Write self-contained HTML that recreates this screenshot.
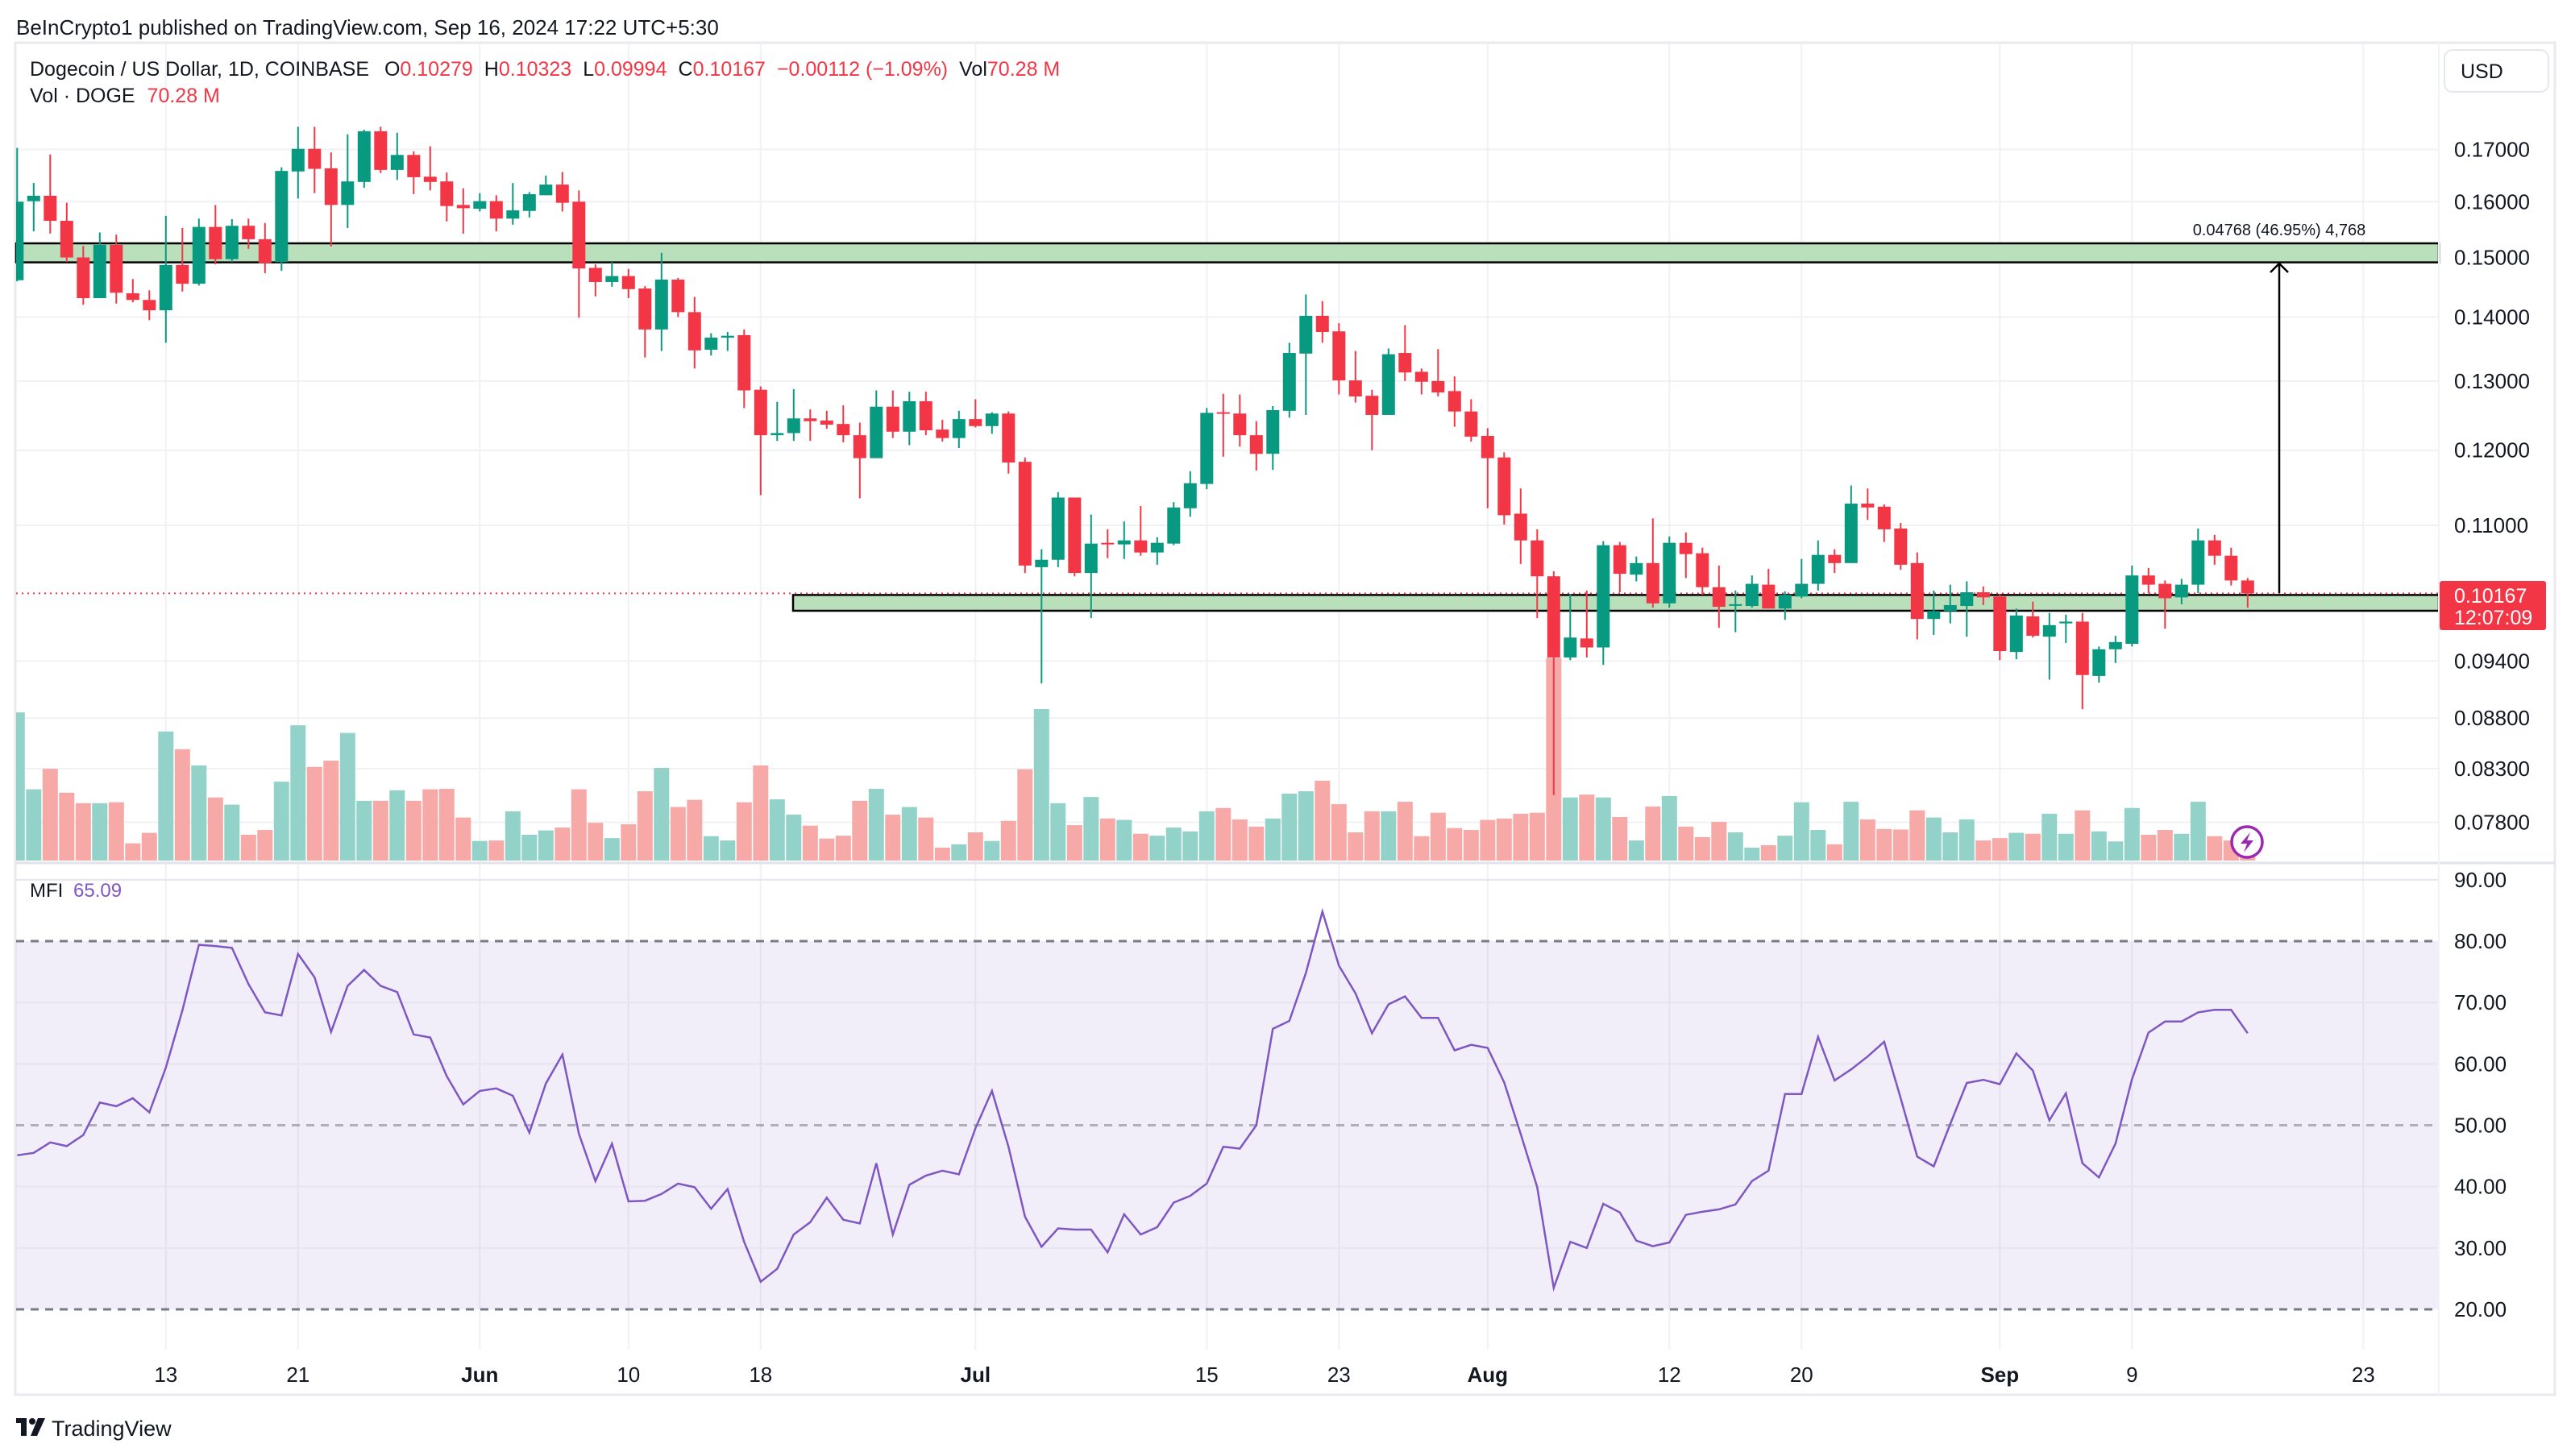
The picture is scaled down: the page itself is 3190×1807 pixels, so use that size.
<!DOCTYPE html>
<html><head><meta charset="utf-8"><title>DOGE/USD chart</title>
<style>
html,body{margin:0;padding:0;background:#fff;}
body{width:3190px;height:1802px;overflow:hidden;font-family:"Liberation Sans",sans-serif;}
svg text{font-family:"Liberation Sans",sans-serif;}
</style></head>
<body>
<svg id="chart" width="3190" height="1802" viewBox="0 0 3190 1802" xmlns="http://www.w3.org/2000/svg">
<defs><clipPath id="plotClip"><rect x="20" y="53" width="3006" height="1622"/></clipPath></defs>
<rect x="0" y="0" width="3190" height="1802" fill="#ffffff"/>
<text x="20" y="43" font-size="26" fill="#131722">BeInCrypto1 published on TradingView.com, Sep 16, 2024 17:22 UTC+5:30</text>
<rect x="19" y="53" width="3151" height="1678" fill="none" stroke="#e9e9ee" stroke-width="3"/>
<g id="grid"></g>
<rect x="20" y="1168" width="3006" height="457" fill="#7e57c2" fill-opacity="0.1"/>
<g id="mfiLines"></g>
<g id="vol" clip-path="url(#plotClip)"></g>
<rect x="20" y="302" width="3006" height="23.6" fill="#b9e0bb" stroke="#000" stroke-width="2.5"/>
<rect x="984" y="738.4" width="2042" height="19.6" fill="#b9e0bb" stroke="#000" stroke-width="2.5"/>
<line x1="20" y1="736.4" x2="3026" y2="736.4" stroke="#f23645" stroke-width="2" stroke-dasharray="2,5"/>
<g id="candles" clip-path="url(#plotClip)"></g>
<g>
<line x1="2828" y1="736" x2="2828" y2="327" stroke="#000" stroke-width="2.5"/>
<polyline points="2817,338 2828,327 2839,338" fill="none" stroke="#000" stroke-width="2.5"/>
<text x="2828" y="292" font-size="20" text-anchor="middle" fill="#131722">0.04768 (46.95%) 4,768</text>
</g>
<polyline id="mfiLine" fill="none" stroke="#7e57c2" stroke-width="2.5"/>
<line x1="20" y1="1071" x2="3170" y2="1071" stroke="#e0e3eb" stroke-width="3"/>
<line x1="3026" y1="53" x2="3026" y2="1731" stroke="#f0f3fa" stroke-width="2"/>
<g id="axisY"></g>
<g id="axisM"></g>
<g id="axisX"></g>
<rect x="3033" y="62" width="129" height="52" rx="10" fill="#fff" stroke="#e6e7ec" stroke-width="2"/>
<text x="3053" y="97" font-size="25" fill="#131722">USD</text>
<rect x="3027" y="721" width="132" height="61" rx="3" fill="#f23645"/>
<text x="3045" y="748" font-size="25" fill="#fff">0.10167</text>
<text x="3045" y="775" font-size="25" fill="#fff">12:07:09</text>
<text x="37" y="94" font-size="25" fill="#131722">Dogecoin / US Dollar, 1D, COINBASE <tspan dx="12">O</tspan><tspan fill="#f23645">0.10279</tspan><tspan dx="14">H</tspan><tspan fill="#f23645">0.10323</tspan><tspan dx="14">L</tspan><tspan fill="#f23645">0.09994</tspan><tspan dx="14">C</tspan><tspan fill="#f23645">0.10167</tspan><tspan dx="14" fill="#f23645">−0.00112 (−1.09%)</tspan><tspan dx="14">Vol</tspan><tspan fill="#f23645">70.28 M</tspan></text>
<text x="37" y="127" font-size="25" fill="#131722">Vol · DOGE <tspan dx="8" fill="#f23645">70.28 M</tspan></text>
<text x="37" y="1113" font-size="24" fill="#131722">MFI <tspan dx="6" fill="#7e57c2">65.09</tspan></text>
<g>
<circle cx="2788" cy="1045" r="19" fill="#fff" stroke="#9c27b0" stroke-width="3.5"/>
<polygon points="2792,1033 2780,1047 2788,1047 2784,1058 2796,1043 2788,1043" fill="#9c27b0"/>
</g>
<g>
<rect x="20" y="1760" width="13" height="6" fill="#131722"/><rect x="26" y="1760" width="7" height="22" fill="#131722"/>
<circle cx="40" cy="1764" r="4" fill="#131722"/><polygon points="47,1760 56,1760 46,1782 38,1782" fill="#131722"/>
<text x="64" y="1782" font-size="27" fill="#131722">TradingView</text>
</g>
</svg>
<script>
const opens=[.1461,.1601,.1611,.1565,.1500,.1431,.1522,.1439,.1428,.1411,.1487,.1455,.1554,.1497,.1556,.1532,.1492,.1657,.1701,.1663,.1594,.1637,.1736,.1660,.1689,.1647,.1638,.1594,.1587,.1601,.1569,.1583,.1612,.1632,.1600,.1482,.1458,.1468,.1447,.1380,.1462,.1408,.1348,.1367,.1371,.1287,.1221,.1224,.1245,.1242,.1237,.1221,.1189,.1262,.1226,.1270,.1229,.1217,.1244,.1234,.1252,.1184,.1048,.1057,.1136,.1041,.1078,.1076,.1081,.1066,.1077,.1122,.1154,.1254,.1252,.1221,.1195,.1256,.1342,.1402,.1377,.1301,.1278,.1250,.1343,.1314,.1300,.1285,.1255,.1220,.1190,.1115,.1081,.1037,.0944,.0965,.0955,.1075,.1039,.1053,.1005,.1078,.1065,.1024,.1003,.1002,.1027,.0999,.1013,.1028,.1063,.1053,.1128,.1124,.1096,.1053,.0987,.0996,.1002,.1018,.1013,.0950,.0990,.0967,.0982,.0984,.0924,.0953,.0959,.1038,.1028,.1012,.1027,.1081,.1062,.1032];
const highs=[.1703,.1635,.1690,.1598,.1520,.1544,.1540,.1463,.1444,.1574,.1552,.1569,.1594,.1568,.1569,.1561,.1665,.1745,.1745,.1694,.1730,.1739,.1745,.1733,.1696,.1706,.1655,.1625,.1616,.1612,.1635,.1618,.1649,.1656,.1621,.1488,.1492,.1480,.1451,.1508,.1465,.1433,.1374,.1376,.1380,.1292,.1269,.1288,.1258,.1256,.1264,.1239,.1286,.1286,.1284,.1284,.1243,.1256,.1273,.1254,.1255,.1190,.1070,.1143,.1136,.1114,.1095,.1105,.1125,.1085,.1130,.1171,.1260,.1281,.1280,.1241,.1263,.1359,.1437,.1426,.1390,.1346,.1287,.1350,.1387,.1319,.1349,.1307,.1273,.1231,.1197,.1148,.1095,.1043,.1016,.1020,.1080,.1079,.1061,.1109,.1086,.1091,.1072,.1050,.1020,.1038,.1046,.1019,.1058,.1081,.1070,.1152,.1148,.1127,.1103,.1066,.1020,.1027,.1031,.1025,.1016,.0999,.1007,.0994,.0992,.0994,.0956,.0968,.1050,.1047,.1032,.1034,.1096,.1088,.1072,.1035];
const lows=[.1459,.1546,.1542,.1492,.1420,.1431,.1422,.1424,.1395,.1359,.1442,.1452,.1488,.1492,.1515,.1473,.1477,.1606,.1616,.1519,.1552,.1626,.1654,.1641,.1614,.1621,.1564,.1542,.1582,.1546,.1558,.1571,.1612,.1582,.1399,.1434,.1450,.1431,.1336,.1346,.1400,.1319,.1339,.1346,.1260,.1139,.1213,.1213,.1213,.1230,.1211,.1135,.1189,.1217,.1207,.1221,.1212,.1203,.1232,.1223,.1168,.1041,.0916,.1048,.1037,.0988,.1059,.1058,.1062,.1051,.1075,.1111,.1147,.1191,.1205,.1172,.1173,.1246,.1250,.1359,.1280,.1268,.1200,.1250,.1300,.1280,.1277,.1233,.1212,.1122,.1101,.1052,.0988,.0805,.0941,.0944,.0936,.1018,.1031,.1000,.1000,.1035,.1015,.0977,.0972,.1000,.0999,.0986,.1011,.1020,.1041,.1053,.1107,.1079,.1045,.0964,.0969,.0982,.0967,.1003,.0941,.0942,.0966,.0920,.0960,.0889,.0917,.0938,.0956,.1017,.0976,.1004,.1017,.1051,.1026,.1000];
const closes=[.1600,.1611,.1565,.1500,.1431,.1522,.1440,.1428,.1411,.1487,.1455,.1554,.1497,.1556,.1532,.1490,.1658,.1701,.1662,.1594,.1638,.1736,.1660,.1689,.1646,.1637,.1592,.1588,.1601,.1569,.1584,.1614,.1632,.1598,.1481,.1458,.1468,.1446,.1380,.1462,.1408,.1347,.1367,.1370,.1286,.1221,.1224,.1245,.1241,.1236,.1221,.1189,.1262,.1226,.1270,.1228,.1217,.1244,.1234,.1252,.1183,.1050,.1057,.1136,.1041,.1077,.1076,.1081,.1066,.1078,.1123,.1155,.1253,.1252,.1221,.1195,.1257,.1343,.1402,.1376,.1301,.1277,.1250,.1341,.1313,.1299,.1283,.1255,.1219,.1189,.1113,.1081,.1037,.0944,.0966,.0955,.1075,.1040,.1053,.1005,.1078,.1064,.1024,.1001,.1004,.1028,.0999,.1015,.1028,.1063,.1053,.1128,.1123,.1095,.1051,.0987,.0996,.1003,.1018,.1012,.0951,.0991,.0968,.0980,.0984,.0925,.0953,.0961,.1038,.1027,.1011,.1027,.1081,.1062,.1032,.10167];
const volumes=[310,149,192,142,120,120,122,36,58,270,233,199,132,117,54,64,165,283,196,209,267,125,125,147,125,149,150,90,41,42,103,54,63,69,149,79,47,76,145,194,112,127,51,42,122,199,128,96,73,46,52,125,150,96,112,90,27,34,59,41,83,191,317,120,74,133,88,85,56,52,69,61,103,110,86,71,88,140,145,167,118,59,103,103,123,51,100,68,64,85,88,98,100,424,132,138,132,91,42,113,135,71,49,81,59,27,32,52,122,64,34,123,86,66,65,105,90,59,86,42,47,58,56,98,56,105,61,40,110,54,64,56,123,51,42,28];
const mfi=[45.1,45.5,47.2,46.6,48.4,53.7,53.1,54.4,52.1,59.4,68.7,79.4,79.2,78.9,73.0,68.4,67.9,77.9,74.1,65.2,72.7,75.3,72.7,71.7,64.8,64.3,58.0,53.4,55.6,56.0,54.8,48.8,56.8,61.5,48.6,40.9,47.0,37.6,37.7,38.8,40.5,39.9,36.4,39.6,31.0,24.5,26.6,32.2,34.2,38.2,34.6,34.0,43.8,32.2,40.3,41.8,42.6,42.0,49.5,55.6,46.5,35.1,30.2,33.2,33.0,33.0,29.3,35.5,32.2,33.4,37.4,38.5,40.5,46.5,46.2,50.0,65.7,67.0,74.8,84.8,76.0,71.5,65.0,69.7,71.0,67.5,67.5,62.2,63.1,62.6,57.0,48.6,39.9,23.5,31.0,30.0,37.2,35.8,31.2,30.3,30.9,35.4,35.9,36.3,37.1,40.9,42.6,55.1,55.1,64.4,57.3,59.1,61.2,63.6,54.4,44.9,43.3,50.2,56.9,57.4,56.7,61.7,58.9,50.8,55.2,43.8,41.5,47.0,57.5,65.1,66.9,66.9,68.4,68.8,68.8,65.0];
const priceTicks=[0.17,0.16,0.15,0.14,0.13,0.12,0.11,0.094,0.088,0.083,0.078];
const priceTickLabels=["0.17000","0.16000","0.15000","0.14000","0.13000","0.12000","0.11000","0.09400","0.08800","0.08300","0.07800"];
const mfiTicks=[90,80,70,60,50,40,30,20];
const dateTickIdx=[9,17,28,37,45,58,72,80,89,100,108,120,128,142];
const dateTickLabels=["13","21","Jun","10","18","Jul","15","23","Aug","12","20","Sep","9","23"];
const NS="http://www.w3.org/2000/svg";
function xOf(i){return 21.3+i*20.5;}
function yPrice(p){return 652+Math.log(0.11/p)*1072;}
function yMfi(v){return 1168+(80-v)*7.617;}
function hVol(v){return v/1.686;}
function mk(tag,attrs,parent){const e=document.createElementNS(NS,tag);for(const k in attrs)e.setAttribute(k,attrs[k]);parent.appendChild(e);return e;}
const grid=document.getElementById('grid');
dateTickIdx.forEach((d,k)=>{
  const l=mk('line',{x1:xOf(d),x2:xOf(d),y1:53,y2:1675,stroke:'#f0f1f4','stroke-width':2},grid);
  
  
});
priceTicks.forEach((p,k)=>{
  const l=mk('line',{x1:20,x2:3026,y1:yPrice(p),y2:yPrice(p),stroke:'#f0f1f4','stroke-width':2},grid);
  
  
  const t=mk('text',{x:3045,y:yPrice(p)+9,'font-size':26,fill:'#131722'},document.getElementById('axisY'));
  t.textContent=priceTickLabels[k];
  
  
});
const ml=document.getElementById('mfiLines');
mfiTicks.forEach(v=>{
  const dashed=(v===80||v===50||v===20);
  const l=mk('line',{x1:20,x2:3026,y1:yMfi(v),y2:yMfi(v),stroke:dashed?'#787b86':'#e6e4ee','stroke-width':dashed?3:2},ml);
  if(dashed){l.setAttribute('stroke-dasharray','10,8');if(v===50)l.setAttribute('stroke-opacity','0.55');}
  
  
  const t=mk('text',{x:3045,y:yMfi(v)+9,'font-size':26,fill:'#131722'},document.getElementById('axisM'));
  t.textContent=v.toFixed(2);
  
  
});
const ax=document.getElementById('axisX');
dateTickIdx.forEach((d,k)=>{
  const isMonth=isNaN(+dateTickLabels[k]);
  const t=mk('text',{x:xOf(d),y:1715,'font-size':26,'text-anchor':'middle',fill:'#131722','font-weight':isMonth?'bold':'normal'},ax);
  t.textContent=dateTickLabels[k];
  
  
});
const vg=document.getElementById('vol'),cg=document.getElementById('candles');
for(let i=0;i<opens.length;i++){
  const up=closes[i]>=opens[i];
  const x=xOf(i);
  const h=hVol(volumes[i]);
  const vb=mk('rect',{x:x-9.5,y:1068-h,width:19,height:h,fill:up?'#92d2c8':'#f7a9a7'},vg);
  
  
  const col=up?'#089981':'#f23645';
  const w=mk('line',{x1:x,x2:x,y1:yPrice(highs[i]),y2:yPrice(lows[i]),stroke:col,'stroke-width':2},cg);
  
  
  const top=yPrice(Math.max(opens[i],closes[i])),bot=yPrice(Math.min(opens[i],closes[i]));
  const b=mk('rect',{x:x-8,y:top,width:16,height:Math.max(2,bot-top),fill:col},cg);
  
  
}
document.getElementById('mfiLine').setAttribute('points',mfi.map((v,i)=>xOf(i).toFixed(1)+','+yMfi(v).toFixed(1)).join(' '));
</script>
</body></html>
